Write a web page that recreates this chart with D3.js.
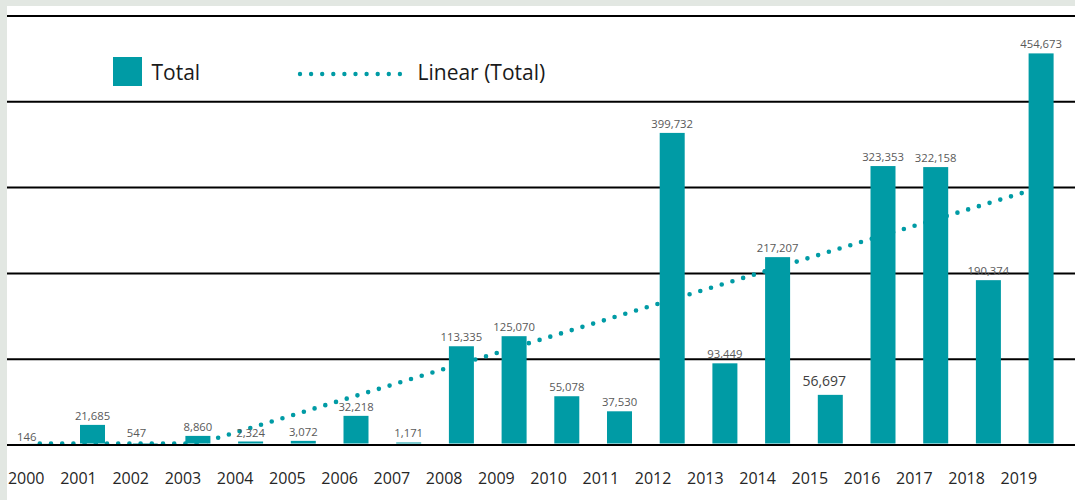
<!DOCTYPE html>
<html><head><meta charset="utf-8">
<script src="https://cdn.jsdelivr.net/npm/d3@7"></script>
<style>
html,body{margin:0;padding:0;background:#e2e7e2;}
svg{display:block;font-family:"Open Sans",sans-serif;}
</style></head><body>
<svg id="chart" width="1075" height="500"></svg>
<script>
// ---- data ----
const years = ["2000","2001","2002","2003","2004","2005","2006","2007","2008","2009",
               "2010","2011","2012","2013","2014","2015","2016","2017","2018","2019"];
// bar heights as drawn
const totals = [146, 21685, 547, 8860, 2324, 3072, 32218, 1171, 113335, 125070,
                55078, 37530, 362000, 93449, 217207, 56697, 323353, 322158, 190374, 454673];
// numbers printed above the bars
const labelValues = [146, 21685, 547, 8860, 2324, 3072, 32218, 1171, 113335, 125070,
                     55078, 37530, 399732, 93449, 217207, 56697, 323353, 322158, 190374, 454673];
const gridTicks = [0, 100000, 200000, 300000, 400000, 500000];
const legendLabels = ["Total", "Linear (Total)"];

// ---- layout ----
const W = 1075, H = 500;
const TEAL = "#009ba5";
const svg = d3.select("#chart");
svg.append("rect").attr("width", W).attr("height", H).attr("fill", "#e2e7e2");
svg.append("rect").attr("x", 7).attr("y", 6).attr("width", W - 7).attr("height", H - 6).attr("fill", "#fff");

const x = d3.scaleBand().domain(years).range([13.45, 1067.45]).paddingInner(0.5256).paddingOuter(0.2628);
const xLab = d3.scalePoint().domain(years).range([25.7, 1018.3]);
const y = d3.scaleLinear().domain([0, 500000]).range([443.5, 14.5]);
const gridShift = 1.5;

// gridlines (except baseline)
svg.append("g").attr("transform", `translate(0,${gridShift})`)
  .selectAll("line").data(gridTicks.filter(d => d > 0)).join("line")
  .attr("x1", 7).attr("x2", W).attr("y1", d => y(d)).attr("y2", d => y(d))
  .attr("stroke", "#000").attr("stroke-width", 2);

// linear trendline (least squares of totals)
const n = totals.length, im = (n - 1) / 2, vm = d3.mean(totals);
let sxy = 0, sxx = 0;
totals.forEach((v, i) => { sxy += (i - im) * (v - vm); sxx += (i - im) ** 2; });
const slope = sxy / sxx, icpt = vm - slope * im;
const cx = t => x(years[0]) + x.bandwidth() / 2 + x.step() * t;
const cross = -icpt / slope;
const trendPts = [[0, Math.max(0, icpt)]];
if (cross > 0 && cross < n - 1) trendPts.push([cross, 0]);
trendPts.push([n - 1, icpt + slope * (n - 1)]);
svg.append("path")
  .attr("d", d3.line().x(d => cx(d[0])).y(d => y(d[1]))(trendPts))
  .attr("fill", "none").attr("stroke", TEAL).attr("stroke-width", 4.6)
  .attr("stroke-linecap", "round").attr("stroke-dasharray", "0 11.2");

// bars
svg.append("g").selectAll("rect").data(totals).join("rect")
  .attr("x", (d, i) => x(years[i])).attr("width", x.bandwidth())
  .attr("y", d => y(d)).attr("height", d => y(0) - y(d))
  .attr("fill", TEAL);

// baseline
svg.append("line").attr("x1", 7).attr("x2", W)
  .attr("y1", y(0) + gridShift).attr("y2", y(0) + gridShift)
  .attr("stroke", "#000").attr("stroke-width", 2);

// data labels
const fmt = d3.format(",");
const nudge = { "2000": [-13, 2.6, 11.3], "2002": [-8.7, -1, 11.3], "2015": [-6, -3.5, 14] };
svg.append("g").selectAll("text").data(labelValues).join("text")
  .attr("x", (d, i) => cx(i) + (nudge[years[i]] ? nudge[years[i]][0] : 0))
  .attr("y", (d, i) => y(totals[i]) - 5 + (nudge[years[i]] ? nudge[years[i]][1] : 0))
  .attr("text-anchor", "middle")
  .attr("font-size", (d, i) => (nudge[years[i]] ? nudge[years[i]][2] : 11.3) + "px")
  .attr("fill", (d, i) => years[i] === "2015" ? "#404040" : "#595959")
  .text(d => fmt(d));

// category axis
const ax = svg.append("g").attr("transform", "translate(0,484)")
  .call(d3.axisBottom(xLab).tickSize(0).tickPadding(0));
ax.select(".domain").remove();
ax.selectAll("text").attr("y", 0).attr("dy", null)
  .attr("font-size", "16px").attr("font-family", "Open Sans, sans-serif").attr("fill", "#262626");

// legend
const lg = svg.append("g");
lg.append("rect").attr("x", 113).attr("y", 57).attr("width", 29).attr("height", 29).attr("fill", TEAL);
lg.append("text").attr("x", 151.5).attr("y", 80).attr("font-size", "21px").attr("fill", "#1a1a1a").text(legendLabels[0]);
lg.append("line").attr("x1", 300).attr("x2", 400).attr("y1", 74).attr("y2", 74)
  .attr("stroke", TEAL).attr("stroke-width", 4.4).attr("stroke-linecap", "round").attr("stroke-dasharray", "0 11.1");
lg.append("text").attr("x", 417.5).attr("y", 80).attr("font-size", "21px").attr("fill", "#1a1a1a").text(legendLabels[1]);
</script>
</body></html>
